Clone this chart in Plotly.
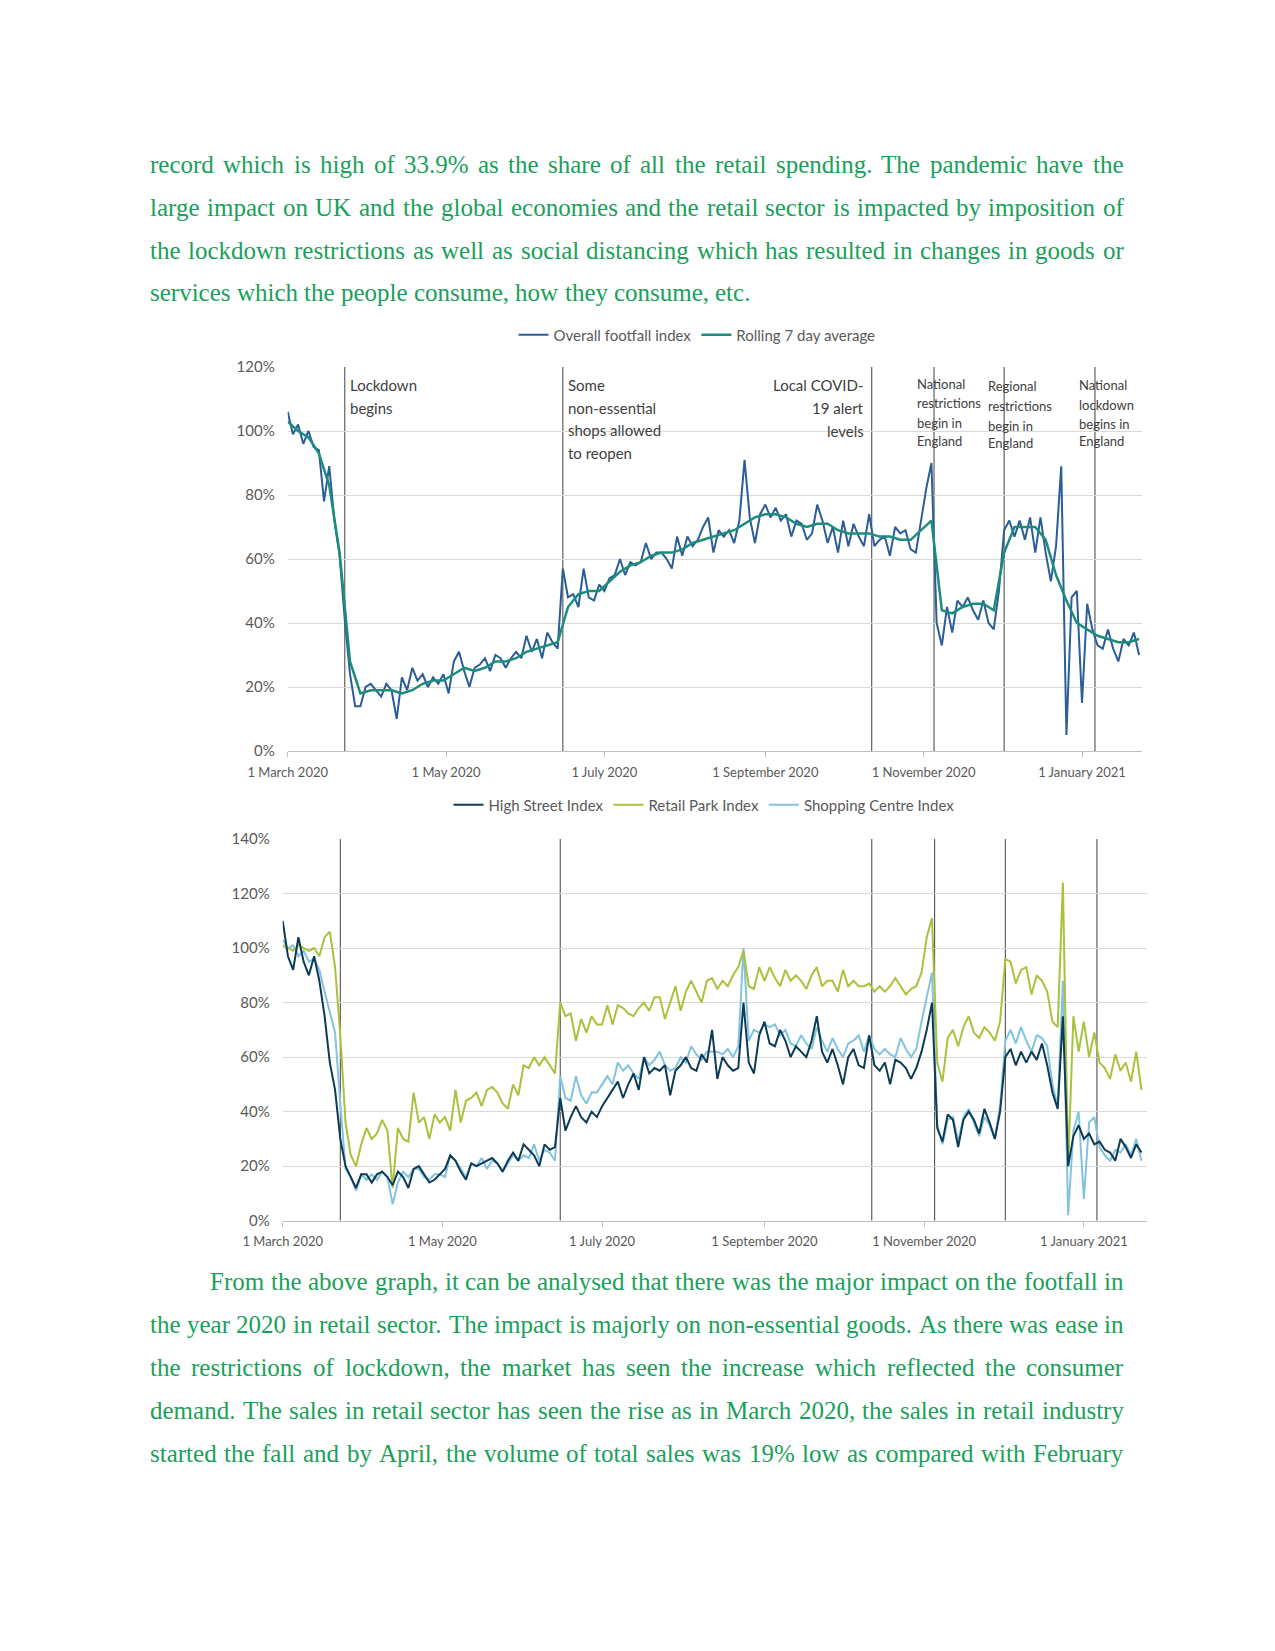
import pandas as pd
import plotly.graph_objects as go

# ---------------- data ----------------
START = "2020-03-01"

overall_index = [
    106, 99, 102, 96, 100, 95, 94, 78, 89, 72,
    61, 41, 24, 14, 14, 20, 21, 19, 17, 21,
    19, 10, 23, 19, 26, 22, 24, 20, 23, 21,
    24, 18, 28, 31, 25, 20, 26, 27, 29, 25,
    30, 29, 26, 29, 31, 29, 36, 31, 35, 29,
    37, 34, 32, 57, 48, 49, 45, 57, 48, 47,
    52, 50, 54, 55, 60, 55, 59, 58, 59, 65,
    60, 62, 62, 60, 57, 67, 61, 67, 64, 66,
    70, 73, 62, 69, 67, 69, 65, 72, 91, 73,
    65, 74, 77, 73, 76, 72, 74, 67, 72, 71,
    66, 68, 77, 72, 65, 70, 62, 72, 64, 71,
    67, 64, 74, 64, 66, 67, 61, 70, 68, 69,
    63, 62, 72, 82, 90, 40, 33, 45, 37, 47,
    45, 48, 44, 41, 47, 40, 38, 50, 69, 72,
    67, 72, 66, 73, 62, 73, 62, 53, 64, 89,
    5, 48, 50, 15, 46, 38, 33, 32, 38, 32,
    28, 35, 33, 37, 30,
]

rolling_avg = [
    103, 100, 98, 93, 83, 62, 28, 18, 19, 19,
    19, 18, 19, 21, 22, 22, 24, 26, 25, 26,
    28, 28, 29, 31, 32, 33, 34, 45, 49, 50,
    50, 53, 56, 58, 59, 61, 62, 62, 63, 65,
    66, 67, 68, 69, 71, 73, 74, 74, 73, 71,
    70, 71, 71, 69, 68, 68, 68, 67, 67, 66,
    66, 69, 72, 44, 43, 45, 46, 46, 44, 62,
    70, 70, 70, 66, 55, 47, 40, 38, 36, 35,
    34, 34, 35,
]

high_street = [
    110, 97, 92, 104, 95, 90, 97, 88, 75, 58,
    48, 30, 20, 16, 12, 17, 17, 14, 17, 18,
    16, 13, 18, 16, 12, 19, 20, 17, 14, 15,
    17, 19, 24, 22, 18, 15, 21, 20, 21, 22,
    23, 21, 18, 22, 25, 22, 28, 26, 24, 20,
    28, 26, 27, 45, 33, 38, 42, 38, 36, 40,
    38, 42, 45, 48, 51, 45, 50, 54, 48, 60,
    54, 56, 55, 57, 46, 55, 57, 60, 56, 55,
    61, 58, 70, 52, 60, 57, 55, 56, 80, 58,
    54, 68, 73, 65, 64, 70, 66, 60, 64, 62,
    60, 66, 75, 62, 58, 63, 57, 50, 60, 63,
    57, 56, 68, 57, 55, 58, 50, 59, 58, 56,
    52, 56, 62, 70, 80, 34, 29, 39, 37, 27,
    37, 40, 37, 32, 41, 36, 30, 40, 60, 63,
    57, 62, 58, 62, 59, 65, 57, 47, 41, 75,
    20, 31, 35, 30, 32, 28, 29, 26, 25, 22,
    30, 27, 23, 28, 25,
]

retail_park = [
    101, 100, 99, 101, 100, 99, 100, 97, 104, 106,
    93, 68, 36, 24, 20, 28, 34, 30, 32, 37,
    33, 12, 34, 30, 29, 47, 36, 38, 30, 39,
    36, 38, 33, 48, 36, 44, 45, 47, 42, 48,
    49, 47, 43, 41, 50, 46, 57, 56, 60, 57,
    60, 57, 54, 80, 75, 76, 66, 74, 69, 75,
    72, 72, 79, 72, 79, 78, 76, 75, 78, 80,
    77, 82, 82, 74, 80, 86, 77, 84, 88, 84,
    80, 88, 89, 85, 88, 86, 90, 93, 99, 86,
    85, 93, 88, 93, 89, 86, 92, 88, 90, 88,
    85, 90, 93, 86, 88, 88, 84, 92, 86, 88,
    86, 86, 87, 84, 86, 84, 86, 89, 86, 83,
    85, 86, 91, 104, 111, 58, 51, 67, 70, 64,
    71, 75, 69, 67, 71, 69, 66, 73, 96, 95,
    87, 92, 93, 83, 90, 88, 84, 73, 71, 124,
    20, 75, 62, 73, 60, 69, 58, 56, 52, 61,
    55, 58, 51, 62, 48,
]

shopping_centre = [
    103, 100, 101, 97, 99, 95, 96, 92, 84, 76,
    69, 43, 19, 16, 11, 17, 15, 17, 15, 18,
    16, 6, 14, 18, 16, 19, 19, 16, 15, 17,
    17, 16, 24, 22, 19, 16, 21, 20, 23, 19,
    22, 21, 18, 21, 24, 22, 24, 23, 28, 22,
    26, 25, 22, 53, 45, 44, 53, 46, 43, 47,
    47, 50, 53, 50, 58, 55, 57, 54, 52, 60,
    57, 59, 62, 57, 55, 56, 60, 58, 64, 61,
    59, 62, 62, 62, 61, 63, 60, 64, 100, 66,
    70, 69, 72, 71, 72, 68, 70, 65, 64, 68,
    65, 63, 71, 66, 62, 67, 63, 60, 65, 66,
    68, 62, 68, 63, 61, 63, 61, 60, 67, 63,
    60, 63, 73, 82, 91, 35, 28, 37, 38, 29,
    38, 41, 36, 31, 38, 35, 30, 42, 66, 70,
    65, 71, 66, 62, 68, 67, 64, 50, 42, 88,
    2, 33, 40, 8, 36, 38, 27, 24, 22, 26,
    25, 28, 24, 30, 22,
]

event_dates = ["2020-03-23", "2020-06-15", "2020-10-12", "2020-11-05", "2020-12-02", "2021-01-06"]

tick_dates = ["2020-03-01", "2020-05-01", "2020-07-01", "2020-09-01", "2020-11-01", "2021-01-01"]
tick_labels = ["1 March 2020", "1 May 2020", "1 July 2020", "1 September 2020",
               "1 November 2020", "1 January 2021"]

y_ticks_top = [0, 20, 40, 60, 80, 100, 120]
y_ticks_bottom = [0, 20, 40, 60, 80, 100, 120, 140]

para1 = [
    "record which is high of 33.9% as the share of all the retail spending. The pandemic have the",
    "large impact on UK and the global economies and the retail sector is impacted by imposition of",
    "the lockdown restrictions as well as social distancing which has resulted in changes in goods or",
    "services which the people consume, how they consume, etc.",
]
para2 = [
    "From the above graph, it can be analysed that there was the major impact on the footfall  in",
    "the year 2020 in retail sector. The impact is majorly on non-essential goods. As there was ease in",
    "the restrictions of lockdown, the market has seen the increase which reflected the consumer",
    "demand. The sales in retail sector has seen the rise as in March 2020, the sales in retail industry",
    "started the fall and by April, the volume of total sales was 19% low as compared with February",
]

# ---------------- layout helpers ----------------
W, H = 1275, 1651
def px(x):
    return x / W
def py(y):
    return 1 - y / H

dates2 = pd.date_range(START, periods=len(overall_index), freq="2D")
dates4 = pd.date_range(START, periods=len(rolling_avg), freq="4D")

C_OVERALL = "#2b5d98"
C_ROLL = "#1c8c7c"
C_HS = "#0d3b55"
C_RP = "#a8c23c"
C_SC = "#82c4e0"
GRID = "#d9d9d9"
AXIS = "#bfbfbf"
TXT = "#595959"
FONT = "Lato"

fig = go.Figure()

# top chart
fig.add_trace(go.Scatter(x=dates2, y=overall_index, mode="lines", name="Overall footfall index",
                         line=dict(color=C_OVERALL, width=2), xaxis="x", yaxis="y", legend="legend"))
fig.add_trace(go.Scatter(x=dates4, y=rolling_avg, mode="lines", name="Rolling 7 day average",
                         line=dict(color=C_ROLL, width=2.5), xaxis="x", yaxis="y", legend="legend"))

# bottom chart
fig.add_trace(go.Scatter(x=dates2, y=shopping_centre, mode="lines", name="Shopping Centre Index",
                         line=dict(color=C_SC, width=2), xaxis="x2", yaxis="y2", legend="legend2",
                         legendrank=3))
fig.add_trace(go.Scatter(x=dates2, y=retail_park, mode="lines", name="Retail Park Index",
                         line=dict(color=C_RP, width=2), xaxis="x2", yaxis="y2", legend="legend2",
                         legendrank=2))
fig.add_trace(go.Scatter(x=dates2, y=high_street, mode="lines", name="High Street Index",
                         line=dict(color=C_HS, width=2), xaxis="x2", yaxis="y2", legend="legend2",
                         legendrank=1))

# event lines
for d in event_dates:
    fig.add_shape(type="line", xref="x", yref="y", x0=d, x1=d, y0=0, y1=120,
                  line=dict(color="#404040", width=1), layer="below")
    fig.add_shape(type="line", xref="x2", yref="y2", x0=d, x1=d, y0=0, y1=140,
                  line=dict(color="#404040", width=1), layer="below")

xcommon = dict(type="date", tickvals=tick_dates, ticktext=tick_labels, showgrid=False,
               showline=True, linecolor=AXIS, linewidth=1, ticks="outside", ticklen=5,
               tickcolor=AXIS, tickfont=dict(family=FONT, size=13, color=TXT), zeroline=False,
               ticklabelstandoff=4, automargin=False)
ycommon = dict(showgrid=True, gridcolor=GRID, gridwidth=1, zeroline=False, showline=False,
               ticks="", tickfont=dict(family=FONT, size=15, color=TXT),
               ticklabelstandoff=12, automargin=False)

fig.update_layout(
    width=W, height=H, autosize=False,
    margin=dict(l=0, r=0, t=0, b=0, pad=0, autoexpand=False),
    paper_bgcolor="white", plot_bgcolor="white",
    font=dict(family=FONT, color=TXT),
    xaxis=dict(xcommon, domain=[px(287.7), px(1141.7)], range=["2020-03-01", "2021-01-24"],
               anchor="y"),
    yaxis=dict(ycommon, domain=[py(751), py(367)], range=[0, 120],
               tickvals=y_ticks_top, ticktext=[f"{v}%" for v in y_ticks_top], anchor="x"),
    xaxis2=dict(xcommon, domain=[px(282.7), px(1146.7)], range=["2020-03-01", "2021-01-25"],
                anchor="y2"),
    yaxis2=dict(ycommon, domain=[py(1220.7), py(839)], range=[0, 140],
                tickvals=y_ticks_bottom, ticktext=[f"{v}%" for v in y_ticks_bottom], anchor="x2"),
    legend=dict(orientation="h", x=px(697), y=py(335), xanchor="center", yanchor="middle",
                font=dict(family=FONT, size=15, color=TXT), itemwidth=30,
                bgcolor="rgba(0,0,0,0)"),
    legend2=dict(orientation="h", x=px(704), y=py(805), xanchor="center", yanchor="middle",
                 font=dict(family=FONT, size=15, color=TXT), itemwidth=30,
                 bgcolor="rgba(0,0,0,0)", traceorder="normal"),
)

annotations = []

def label(text, x, y, size, anchor="left"):
    annotations.append(dict(text=text, x=px(x), y=py(y), xref="paper", yref="paper",
                            showarrow=False, xanchor=anchor, yanchor="middle",
                            borderpad=0, borderwidth=0,
                            font=dict(family=FONT, size=size, color="#404040")))

# event labels in the top chart
for t, y in zip(["Lockdown", "begins"], [385, 407.5]):
    label(t, 349.5, y, 15)
for t, y in zip(["Some", "non-essential", "shops allowed", "to reopen"], [385, 407.5, 430, 452.5]):
    label(t, 567.5, y, 15)
for t, y in zip(["Local COVID-", "19 alert", "levels"], [385, 407.5, 430.5]):
    label(t, 864.5, y, 15, anchor="right")
for t, y in zip(["National", "restrictions", "begin in", "England"], [384, 403, 422.5, 440.5]):
    label(t, 916.5, y, 13)
for t, y in zip(["Regional", "restrictions", "begin in", "England"], [386, 406, 426, 443]):
    label(t, 988, y, 13)
for t, y in zip(["National", "lockdown", "begins in", "England"], [385, 405, 424, 441]):
    label(t, 1079, y, 13)

# ---------------- body text (justified, Times metrics) ----------------
TIMES = {" ": 250, "!": 333, "%": 833, "'": 180, "(": 333, ")": 333, ",": 250, "-": 333,
         ".": 250, ":": 278, ";": 278, "?": 444,
         "A": 722, "B": 667, "C": 667, "D": 722, "E": 611, "F": 556, "G": 722, "H": 722,
         "I": 333, "J": 389, "K": 722, "L": 611, "M": 889, "N": 722, "O": 722, "P": 556,
         "Q": 722, "R": 667, "S": 556, "T": 611, "U": 722, "V": 722, "W": 944, "X": 722,
         "Y": 722, "Z": 611,
         "a": 444, "b": 500, "c": 444, "d": 500, "e": 444, "f": 333, "g": 500, "h": 500,
         "i": 278, "j": 278, "k": 500, "l": 278, "m": 778, "n": 500, "o": 500, "p": 500,
         "q": 500, "r": 333, "s": 389, "t": 278, "u": 500, "v": 500, "w": 722, "x": 500,
         "y": 500, "z": 444}
BODY_SIZE = 25
BODY_COLOR = "#19a05a"

def tw(s):
    return sum(TIMES.get(c, 500) for c in s) / 1000.0 * BODY_SIZE

def body_line(line, x0, x1, baseline, justify):
    words = line.split()
    widths = [tw(w) for w in words]
    if justify and len(words) > 1:
        gap = (x1 - x0 - sum(widths)) / (len(words) - 1)
    else:
        gap = tw(" ")
    x = x0
    yc = baseline - 8.4
    for w, wd in zip(words, widths):
        annotations.append(dict(text=w, x=px(x), y=py(yc), xref="paper", yref="paper",
                                showarrow=False, xanchor="left", yanchor="middle",
                                borderpad=0, borderwidth=0,
                                font=dict(family="Liberation Serif", size=BODY_SIZE,
                                          color=BODY_COLOR)))
        x += wd + gap

LEFT, RIGHT = 150, 1123.5
for i, line in enumerate(para1):
    body_line(line, LEFT, RIGHT, 173 + 42.8 * i, justify=(i < len(para1) - 1))
for i, line in enumerate(para2):
    body_line(line, 210 if i == 0 else LEFT, RIGHT, 1290 + 42.9 * i, justify=True)

fig.update_layout(annotations=annotations)

fig.write_html("out.html", config={"displayModeBar": False},
               post_script="document.body.style.margin='0px';")
